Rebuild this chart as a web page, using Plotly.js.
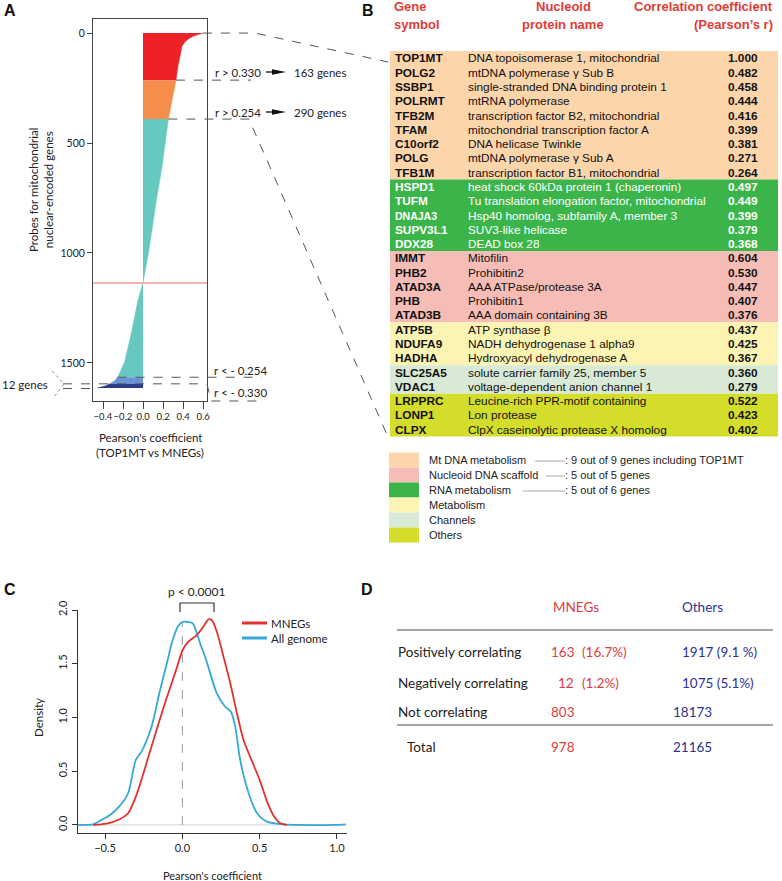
<!DOCTYPE html>
<html><head><meta charset="utf-8">
<script src="https://cdn.plot.ly/plotly-3.0.1.min.js"></script>
<style>html,body{margin:0;padding:0;background:#fff}#chart{width:782px;height:881px}</style>
</head><body><div id="chart"></div>
<script>
// ---------- Panel A data (probe rank vs Pearson r, TOP1MT vs MNEGs) ----------
const redIdx=[0,3,8,15,25,40,60,100,150,214];
const redR=[0.60,0.58,0.54,0.50,0.46,0.42,0.39,0.37,0.35,0.33];
const orangeIdx=[214,300,391];
const orangeR=[0.33,0.29,0.254];
const tealIdx=[391,457,609,760,994,1136,1214,1365,1494,1532,1565];
const tealR=[0.254,0.235,0.19,0.134,0.057,0,-0.05,-0.117,-0.184,-0.22,-0.254];
const ltBlueIdx=[1565,1580,1595];
const ltBlueR=[-0.254,-0.28,-0.33];
const dkBlueIdx=[1595,1605,1614];
const dkBlueR=[-0.33,-0.38,-0.46];
const zeroCrossIdx=1136;
const aYTicks=[0,500,1000,1500];
const aXTicks=[-0.4,-0.2,0,0.2,0.4,0.6];
const aThresholdLabels=['r > 0.330','r > 0.254','r < - 0.254','r < - 0.330'];
const aGeneCounts=['163 genes','290 genes','12 genes'];

// ---------- Panel B data ----------
const genes=['TOP1MT','POLG2','SSBP1','POLRMT','TFB2M','TFAM','C10orf2','POLG','TFB1M',
 'HSPD1','TUFM','DNAJA3','SUPV3L1','DDX28',
 'IMMT','PHB2','ATAD3A','PHB','ATAD3B',
 'ATP5B','NDUFA9','HADHA',
 'SLC25A5','VDAC1',
 'LRPPRC','LONP1','CLPX'];
const proteins=['DNA topoisomerase 1, mitochondrial','mtDNA polymerase γ Sub B','single-stranded DNA binding protein 1','mtRNA polymerase','transcription factor B2, mitochondrial','mitochondrial transcription factor A','DNA helicase Twinkle','mtDNA polymerase γ Sub A','transcription factor B1, mitochondrial',
 'heat shock 60kDa protein 1 (chaperonin)','Tu translation elongation factor, mitochondrial','Hsp40 homolog, subfamily A, member 3','SUV3-like helicase','DEAD box 28',
 'Mitofilin','Prohibitin2','AAA ATPase/protease 3A','Prohibitin1','AAA domain containing 3B',
 'ATP synthase β','NADH dehydrogenase 1 alpha9','Hydroxyacyl dehydrogenase A',
 'solute carrier family 25, member 5','voltage-dependent anion channel 1',
 'Leucine-rich PPR-motif containing','Lon protease','ClpX caseinolytic protease X homolog'];
const coeffs=['1.000','0.482','0.458','0.444','0.416','0.399','0.381','0.271','0.264',
 '0.497','0.449','0.399','0.379','0.368',
 '0.604','0.530','0.447','0.407','0.376',
 '0.437','0.425','0.367',
 '0.360','0.279',
 '0.522','0.423','0.402'];
const rowGroups=[0,0,0,0,0,0,0,0,0, 2,2,2,2,2, 1,1,1,1,1, 3,3,3, 4,4, 5,5,5];
const groupNames=['Mt DNA metabolism','Nucleoid DNA scaffold','RNA metabolism','Metabolism','Channels','Others'];
const groupNotes=[': 9 out of 9 genes including TOP1MT',': 5 out of 5 genes',': 5 out of 6 genes','','',''];
const groupColors=['#fdd5ab','#f6bcb6','#3bb54a','#fbf4b2','#d8e9d5','#d4dd2a'];
const groupTextColors=['#111','#111','#fff','#111','#111','#111'];

// ---------- Panel C data (density of Pearson's coefficient) ----------
const mnegX=[-0.578,-0.491,-0.405,-0.351,-0.297,-0.232,-0.167,-0.102,-0.037,0.002,0.039,0.093,0.136,0.169,0.19,0.223,0.266,0.31,0.353,0.396,0.461,0.504,0.548,0.591,0.634,0.677];
const mnegY=[0,0.012,0.053,0.109,0.279,0.574,0.884,1.178,1.457,1.628,1.705,1.767,1.845,1.913,1.907,1.798,1.566,1.318,1.039,0.791,0.558,0.403,0.217,0.084,0.016,0];
const allX=[-0.68,-0.578,-0.535,-0.47,-0.405,-0.351,-0.301,-0.264,-0.199,-0.149,-0.095,-0.069,-0.03,0.002,0.039,0.067,0.115,0.154,0.223,0.277,0.314,0.342,0.374,0.429,0.483,0.548,0.656,0.764,0.98,1.056];
const allY=[0,0.006,0.037,0.09,0.177,0.295,0.605,0.682,0.915,1.225,1.535,1.69,1.845,1.89,1.888,1.876,1.69,1.535,1.225,1.10,1.054,0.915,0.605,0.295,0.109,0.031,0.006,0,0,0.006];
const cXTicks=[-0.5,0,0.5,1.0];
const cYTicks=[0,0.5,1.0,1.5,2.0];

// ---------- Panel D data ----------
const dRowLabels=['Positively correlating','Negatively correlating','Not correlating'];
const dMneg=['163','12','803'];
const dMnegPct=['(16.7%)','(1.2%)',''];
const dOthers=['1917 (9.1 %)','1075 (5.1%)','18173'];
const dTotals=['978','21165'];

// ---------- helpers ----------
const W=782,H=881;
const FA='Lato, "Open Sans", sans-serif';
const FB='"Liberation Sans", Arial, sans-serif';
const px=x=>x/W, py=y=>1-y/H;
const annos=[], shapes=[];
function txt(x,y,text,o){o=o||{};annos.push({xref:'paper',yref:'paper',x:px(x),y:py(y),text:text,showarrow:false,
  xanchor:o.xa||'left',yanchor:o.ya||'middle',textangle:o.ang||0,align:o.align||'left',borderpad:0,
  font:{family:o.f||FA,size:o.s||12,color:o.c||'#222'}});}
function path(pts,color,width,dash,fill){
  let d='M'+pts.map(p=>px(p[0]).toFixed(5)+','+py(p[1]).toFixed(5)).join('L');
  if(fill) d+='Z';
  shapes.push({type:'path',xref:'paper',yref:'paper',path:d,line:{color:color,width:fill?0:width,dash:dash||'solid'},fillcolor:fill||'rgba(0,0,0,0)',layer:'above'});
}
function rect(x0,y0,x1,y1,color){shapes.push({type:'rect',xref:'paper',yref:'paper',x0:px(x0),x1:px(x1),y0:py(y1),y1:py(y0),fillcolor:color,line:{width:0},layer:'below'});}

// Panel A geometry
const aBox={l:93,r:207,t:19,b:401}, aXR=[-0.5,0.64], aYR=[-64,1673];
const aX=r=>aBox.l+(r-aXR[0])/(aXR[1]-aXR[0])*(aBox.r-aBox.l);
const aY=i=>aBox.t+(i-aYR[0])/(aYR[1]-aYR[0])*(aBox.b-aBox.t);
// Panel C geometry
const cBox={l:78,r:347,t:610,b:833};

// ---------- traces ----------
function seg(idx,r,color){return {type:'scatter',mode:'lines',x:r,y:idx,xaxis:'x',yaxis:'y',fill:'tozerox',
  fillcolor:color,line:{color:color,width:0.5},hoverinfo:'skip',showlegend:false};}
const traces=[
  seg(redIdx,redR,'#ec2227'),
  seg(orangeIdx,orangeR,'#f68d4a'),
  seg(tealIdx,tealR,'#67c8c0'),
  seg(ltBlueIdx,ltBlueR,'#6b93d8'),
  seg(dkBlueIdx,dkBlueR,'#2d3b8c'),
  {type:'scatter',mode:'lines',x:allX,y:allY,xaxis:'x2',yaxis:'y2',line:{color:'#34a8d8',width:1.8,shape:'spline',smoothing:0.8},showlegend:false,hoverinfo:'skip'},
  {type:'scatter',mode:'lines',x:mnegX,y:mnegY,xaxis:'x2',yaxis:'y2',line:{color:'#e0322f',width:1.8,shape:'spline',smoothing:0.8},showlegend:false,hoverinfo:'skip'}
];

// pink zero-crossing line (A)
shapes.push({type:'line',xref:'x',yref:'y',x0:aXR[0],x1:aXR[1],y0:zeroCrossIdx,y1:zeroCrossIdx,line:{color:'#f39a9a',width:1.5},layer:'above'});
// C: dashed x=0 and baseline
shapes.push({type:'line',xref:'x2',yref:'y2',x0:-0.675,x1:1.065,y0:0,y1:0,line:{color:'#d0d0d0',width:1},layer:'below'});
shapes.push({type:'line',xref:'x2',yref:'y2',x0:0,x1:0,y0:0,y1:1.88,line:{color:'#999',width:1,dash:'dash'},layer:'below'});

// ---------- Panel labels ----------
txt(3,11,'<b>A</b>',{f:FB,s:16,c:'#111'});
txt(361,11,'<b>B</b>',{f:FB,s:16,c:'#111'});
txt(3,589,'<b>C</b>',{f:FB,s:16,c:'#111'});
txt(360,589,'<b>D</b>',{f:FB,s:16,c:'#111'});

// ---------- Panel A annotations ----------
const dg='#555';
txt(41,190,'Probes for mitochondrial<br>nuclear-encoded genes',{xa:'center',ang:-90,align:'center',s:11.5});
txt(150,437,"Pearson's coefficient",{xa:'center',s:11.5});
txt(150,452,"(TOP1MT vs MNEGs)",{xa:'center',s:11.5});
// top connector
path([[aX(0.6),aY(0)],[255,aY(0)],[388,62]],dg,1,'dash');
// r>0.330
path([[aX(0.33),aY(214)],[251,aY(214)]],dg,1,'dash');
// r>0.254 with slant to bottom of table
path([[aX(0.254),aY(391)],[249,aY(391)],[388,437]],dg,1,'dash');
txt(214,72,aThresholdLabels[0],{s:11.5});
txt(214,112,aThresholdLabels[1],{s:11.5});
txt(293,72,aGeneCounts[0],{s:11.5});
txt(293,112,aGeneCounts[1],{s:11.5});
[72,112].forEach(y=>{path([[266,y],[273,y]],'#111',1.3);path([[272,y-2.8],[286,y],[272,y+2.8]],'#111',0,null,'#111');});
// negative thresholds
path([[aX(-0.254),aY(1565)],[262,aY(1565)]],dg,1,'dash');
path([[63,aY(1595)],[207,aY(1595)],[211,401],[262,401]],dg,1,'dash');
path([[63,aY(1614)+0.5],[aX(-0.46),aY(1614)+0.5]],dg,1,'dash');
path([[52,371],[64,384],[54,397]],'#777',0.8,'dot');
txt(213,370,aThresholdLabels[2],{s:11.5});
txt(213,392,aThresholdLabels[3],{s:11.5});
txt(1,384,aGeneCounts[2],{s:11.5});

// ---------- Panel B ----------
const hdr='#e23b36';
txt(393,7,'<b>Gene</b>',{f:FB,s:13,c:hdr});
txt(393,24,'<b>symbol</b>',{f:FB,s:13,c:hdr});
txt(563,7,'<b>Nucleoid</b>',{f:FB,s:13,c:hdr,xa:'center'});
txt(563,24,'<b>protein name</b>',{f:FB,s:13,c:hdr,xa:'center'});
txt(774,7,'<b>Correlation coefficient</b>',{f:FB,s:13,c:hdr,xa:'right'});
txt(774,24,'<b>(Pearson’s r)</b>',{f:FB,s:13,c:hdr,xa:'right'});
const rowTop=51, rowH=14.28;
let start=0;
for(let i=1;i<=genes.length;i++){
  if(i===genes.length||rowGroups[i]!==rowGroups[start]){
    rect(390,rowTop+start*rowH,778,rowTop+i*rowH,groupColors[rowGroups[start]]);
    start=i;
  }
}
genes.forEach((g,i)=>{
  const y=rowTop+(i+0.5)*rowH+0.3, c=groupTextColors[rowGroups[i]];
  txt(394,y,'<b>'+g+'</b>',{f:FB,s:(g==='DNAJA3'?10.5:11.8),c:c});
  txt(467,y,proteins[i],{f:FB,s:11.8,c:c});
  txt(759,y,'<b>'+coeffs[i]+'</b>',{f:FB,s:11.8,c:c,xa:'right'});
});
const lineStarts=[535,546,523];
groupNames.forEach((n,i)=>{
  const yc=460+15*i;
  rect(389,yc-7.5,419,yc+7.5,groupColors[i]);
  txt(428,yc,n,{f:FB,s:11,c:'#222'});
  if(groupNotes[i]){
    path([[lineStarts[i],yc+1],[565,yc+1]],'#aaa',1);
    txt(564,yc,groupNotes[i],{f:FB,s:11,c:'#222'});
  }
});

// ---------- Panel C annotations ----------
txt(38,718,'Density',{xa:'center',ang:-90,s:11.5});
txt(212,875,"Pearson's coefficient",{xa:'center',s:11});
path([[180,612],[180,603],[214,603],[214,612]],'#333',1.2);
txt(197,591,'p < 0.0001',{xa:'center',s:12});
path([[242,623],[267,623]],'#e0322f',3);
path([[242,638],[267,638]],'#34a8d8',3);
txt(270,623,'MNEGs',{s:11.5});
txt(270,638,'All genome',{s:11.5});

// ---------- Panel D ----------
const red='#e03a3a', blue='#2e3192', DS=13.5;
txt(552,607,'MNEGs',{s:DS,c:red});
txt(681,607,'Others',{s:DS,c:blue});
path([[397,630],[773,630]],'#888',1.5);
path([[397,725],[773,725]],'#888',1.5);
const dY=[652,683,712];
dRowLabels.forEach((l,i)=>{
  txt(397,dY[i],l,{s:DS,c:'#222'});
  txt(i===1?557:550,dY[i],dMneg[i],{s:DS,c:red});
  if(dMnegPct[i]) txt(581,dY[i],dMnegPct[i],{s:DS,c:red});
  txt(i===2?672:681,dY[i],dOthers[i],{s:DS,c:blue});
});
txt(406,747,'Total',{s:DS,c:'#222'});
txt(550,747,dTotals[0],{s:DS,c:red});
txt(672,747,dTotals[1],{s:DS,c:blue});

// ---------- layout ----------
const axA={showline:true,mirror:true,linecolor:'#444',linewidth:1,ticks:'outside',tickcolor:'#444',
  showgrid:false,zeroline:false,fixedrange:true};
const layout={
  width:W,height:H,margin:{l:0,r:0,t:0,b:0},paper_bgcolor:'#fff',plot_bgcolor:'rgba(0,0,0,0)',showlegend:false,
  xaxis:Object.assign({},axA,{domain:[px(aBox.l),px(aBox.r)],range:aXR,tickvals:aXTicks,tickformat:'.1f',anchor:'y',
    tickangle:0,ticklen:7,tickfont:{family:FA,size:9.5,color:'#222'}}),
  yaxis:Object.assign({},axA,{domain:[py(aBox.b),py(aBox.t)],range:[aYR[1],aYR[0]],tickvals:aYTicks,anchor:'x',
    ticklen:5,tickfont:{family:FA,size:10.5,color:'#222'}}),
  xaxis2:{domain:[px(cBox.l),px(cBox.r)],range:[-0.675,1.065],anchor:'y2',showline:true,linecolor:'#333',linewidth:1.2,
    ticks:'outside',ticklen:5,tickcolor:'#333',tickvals:cXTicks,tickformat:'.1f',tickangle:0,showgrid:false,zeroline:false,
    tickfont:{family:FA,size:11,color:'#222'}},
  yaxis2:{domain:[py(cBox.b),py(cBox.t)],range:[-0.075,2.0],anchor:'x2',showline:true,linecolor:'#333',linewidth:1.2,
    ticks:'outside',ticklen:5,tickcolor:'#333',tickvals:cYTicks,tickformat:'.1f',tickangle:-90,showgrid:false,zeroline:false,
    tickfont:{family:FA,size:11,color:'#222'}},
  shapes:shapes,annotations:annos
};
Plotly.newPlot('chart',traces,layout,{staticPlot:true,displayModeBar:false});
</script></body></html>
